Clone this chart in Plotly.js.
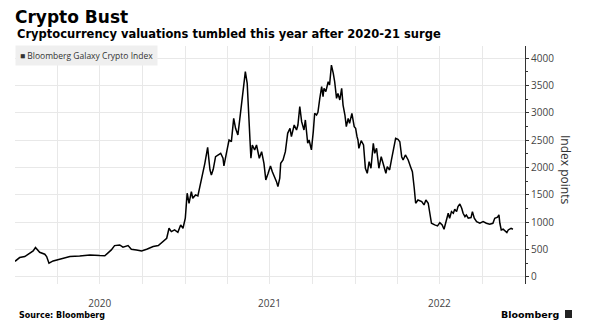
<!DOCTYPE html>
<html>
<head>
<meta charset="utf-8">
<script src="https://cdn.plot.ly/plotly-3.0.1.min.js"></script>
<style>html,body{margin:0;padding:0;background:#fff;}#chart{width:593px;height:331px;}</style>
</head>
<body>
<div id="chart"></div>
<script>
const seriesName = 'Bloomberg Galaxy Crypto Index';
const dates = [
'2020-01-01','2020-01-11','2020-01-22','2020-02-02','2020-02-09','2020-02-14','2020-02-23','2020-03-05','2020-03-09','2020-03-14',
'2020-03-23','2020-04-06','2020-04-28','2020-05-19','2020-06-10','2020-07-01','2020-07-12','2020-07-26','2020-08-02','2020-08-13',
'2020-08-20','2020-08-31','2020-09-07','2020-09-18','2020-09-29','2020-10-10','2020-10-24','2020-11-04','2020-11-14','2020-11-22',
'2020-11-27','2020-12-02','2020-12-09','2020-12-16','2020-12-22','2020-12-27','2021-01-01','2021-01-05','2021-01-09','2021-01-14',
'2021-01-17','2021-01-23','2021-01-28','2021-02-03','2021-02-08','2021-02-12','2021-02-18','2021-02-23','2021-02-26','2021-03-02',
'2021-03-07','2021-03-12','2021-03-18','2021-03-23','2021-03-25','2021-03-31','2021-04-05','2021-04-10','2021-04-15','2021-04-19',
'2021-04-24','2021-04-28','2021-05-02','2021-05-05','2021-05-10','2021-05-14','2021-05-16','2021-05-20','2021-05-22','2021-05-25',
'2021-05-30','2021-06-03','2021-06-09','2021-06-14','2021-06-19','2021-06-23','2021-06-28','2021-07-03','2021-07-07','2021-07-12',
'2021-07-16','2021-07-19','2021-07-23','2021-07-25','2021-07-30','2021-08-04','2021-08-09','2021-08-14','2021-08-17','2021-08-23',
'2021-08-28','2021-08-31','2021-09-04','2021-09-08','2021-09-13','2021-09-16','2021-09-21','2021-09-24','2021-09-29','2021-10-03',
'2021-10-06','2021-10-10','2021-10-13','2021-10-17','2021-10-21','2021-10-24','2021-10-26','2021-10-30','2021-11-04','2021-11-07',
'2021-11-11','2021-11-15','2021-11-18','2021-11-22','2021-11-25','2021-11-29','2021-12-03','2021-12-06','2021-12-10','2021-12-13',
'2021-12-17','2021-12-20','2021-12-25','2021-12-30','2022-01-02','2022-01-05','2022-01-07','2022-01-09','2022-01-14','2022-01-19',
'2022-01-23','2022-01-27','2022-01-31','2022-02-04','2022-02-09','2022-02-12','2022-02-16','2022-02-21','2022-02-26','2022-03-02',
'2022-03-08','2022-03-11','2022-03-16','2022-03-20','2022-03-23','2022-03-29','2022-04-03','2022-04-07','2022-04-11','2022-04-14',
'2022-04-19','2022-04-25','2022-04-30','2022-05-04','2022-05-08','2022-05-11','2022-05-16','2022-05-24','2022-05-29','2022-06-02',
'2022-06-07','2022-06-10','2022-06-14','2022-06-21','2022-06-27','2022-07-02','2022-07-07','2022-07-11','2022-07-16','2022-07-20',
'2022-07-23','2022-07-27','2022-07-31','2022-08-03','2022-08-07','2022-08-10','2022-08-14','2022-08-18','2022-08-21','2022-08-25',
'2022-08-28','2022-09-01','2022-09-07','2022-09-10','2022-09-14','2022-09-19','2022-09-26','2022-10-03','2022-10-10','2022-10-17',
'2022-10-24','2022-10-28','2022-11-03','2022-11-06','2022-11-08','2022-11-11','2022-11-15','2022-11-19','2022-11-23','2022-11-26',
'2022-12-02','2022-12-06'
];
const indexPoints = [
285,353,371,432,475,536,450,414,371,250,
292,323,371,383,402,389,385,493,572,584,
542,572,506,493,475,506,554,572,645,706,
889,828,858,816,950,889,1072,1529,1346,1559,
1437,1498,1480,1711,1954,2076,2368,1954,1863,1967,
2197,2228,2259,2168,2027,2289,2502,2471,2898,2716,
2594,2880,3202,3416,3750,3538,3264,2502,2168,2411,
2320,2411,2168,2289,2076,1772,1894,2027,1923,1832,
1741,1650,1803,2076,2137,2289,2624,2716,2563,2776,
2685,2776,3111,2837,2685,2868,2442,2502,2320,2654,
2990,2959,3008,3264,3476,3293,3447,3385,3567,3507,
3872,3720,3567,3264,3355,3233,3447,3141,2959,2745,
2898,2807,2990,2745,2716,2563,2502,2350,2490,2411,
1985,1894,2106,1985,2442,2259,2350,1985,2197,2076,
1894,2015,1954,2137,2259,2533,2515,2471,2197,2137,
2228,2137,2015,1923,1620,1346,1406,1376,1315,1406,
1346,1163,980,950,931,992,950,871,1041,1163,
1072,1193,1163,1236,1193,1284,1333,1255,1163,1102,
1132,1072,1084,1193,1072,1010,980,1010,980,962,
980,1072,1090,1132,980,858,871,846,809,858,
889,871
];
const yearTickVals = ['2020-07-01','2021-07-01','2022-07-01'];
const yearTickText = ['2020','2021','2022'];

const grid = '#e8e8e8';
const tickFont = {family:'Open Sans, Noto Sans, sans-serif', size:10, color:'#444'};

const trace = {
  type:'scatter', mode:'lines', name:seriesName,
  x:dates, y:indexPoints,
  line:{color:'#000', width:1.5}
};

const layout = {
  width:593, height:331,
  margin:{l:15, r:68, t:46, b:47},
  paper_bgcolor:'#fff', plot_bgcolor:'#fff',
  showlegend:false,
  title:{
    text:'<b>Crypto Bust</b>',
    font:{family:'DejaVu Sans', size:17, color:'#000'},
    xref:'container', x:15/593, xanchor:'left',
    yref:'container', y:1-17/331, yanchor:'middle'
  },
  xaxis:{
    type:'date', range:['2020-01-01','2023-01-01'],
    tickvals:yearTickVals, ticktext:yearTickText,
    showgrid:true, gridcolor:grid, gridwidth:1,
    ticks:'', showline:false, zeroline:false,
    ticklabelstandoff:12,
    tickfont:tickFont,
    minor:{dtick:'M3', tick0:'2020-01-01', showgrid:true, gridcolor:grid, gridwidth:1, ticks:''}
  },
  yaxis:{
    side:'right', range:[-130,4220], dtick:500, tick0:0, tickformat:'d',
    showgrid:true, gridcolor:grid, gridwidth:1,
    showline:true, linecolor:'#333', linewidth:1,
    ticks:'outside', ticklen:3, tickcolor:'#333', tickwidth:1,
    zeroline:false,
    tickfont:tickFont,
    minor:{dtick:250, tick0:0, ticks:'outside', ticklen:2, tickcolor:'#333', showgrid:false}
  },
  annotations:[
    {text:'<b>Cryptocurrency valuations tumbled this year after 2020-21 surge</b>',
     xref:'paper', yref:'paper', x:0, y:(284-34)/238, xanchor:'left', yanchor:'middle',
     showarrow:false, font:{family:'DejaVu Sans', size:11.5, color:'#000'}},
    {text:'■ ' + seriesName,
     xref:'paper', yref:'paper', x:0, y:(284-55.5)/238, xanchor:'left', yanchor:'middle',
     showarrow:false, align:'left', bgcolor:'#efefef', borderpad:4,
     font:{family:'Open Sans, Noto Sans, sans-serif', size:8.5, color:'#333'}},
    {text:'Index points', textangle:90,
     xref:'paper', yref:'paper', x:(566-15)/510, y:(284-169)/238, xanchor:'center', yanchor:'middle',
     showarrow:false, font:{family:'Open Sans, Noto Sans, sans-serif', size:12, color:'#333'}},
    {text:'<b>Source: Bloomberg</b>',
     xref:'paper', yref:'paper', x:(17-15)/510, y:(284-315)/238, xanchor:'left', yanchor:'middle',
     showarrow:false, font:{family:'DejaVu Sans', size:8, color:'#000'}},
    {text:'<b>Bloomberg</b>',
     xref:'paper', yref:'paper', x:(499-15)/510, y:(284-314)/238, xanchor:'left', yanchor:'middle',
     showarrow:false, font:{family:'DejaVu Sans', size:9.5, color:'#000'}}
  ],
  shapes:[
    {type:'rect', xref:'paper', yref:'paper', x0:(565-15)/510, x1:(572-15)/510,
     y0:(284-318)/238, y1:(284-310)/238, fillcolor:'#222', line:{width:0}}
  ]
};

Plotly.newPlot('chart', [trace], layout, {displayModeBar:false, staticPlot:true});
</script>
</body>
</html>
